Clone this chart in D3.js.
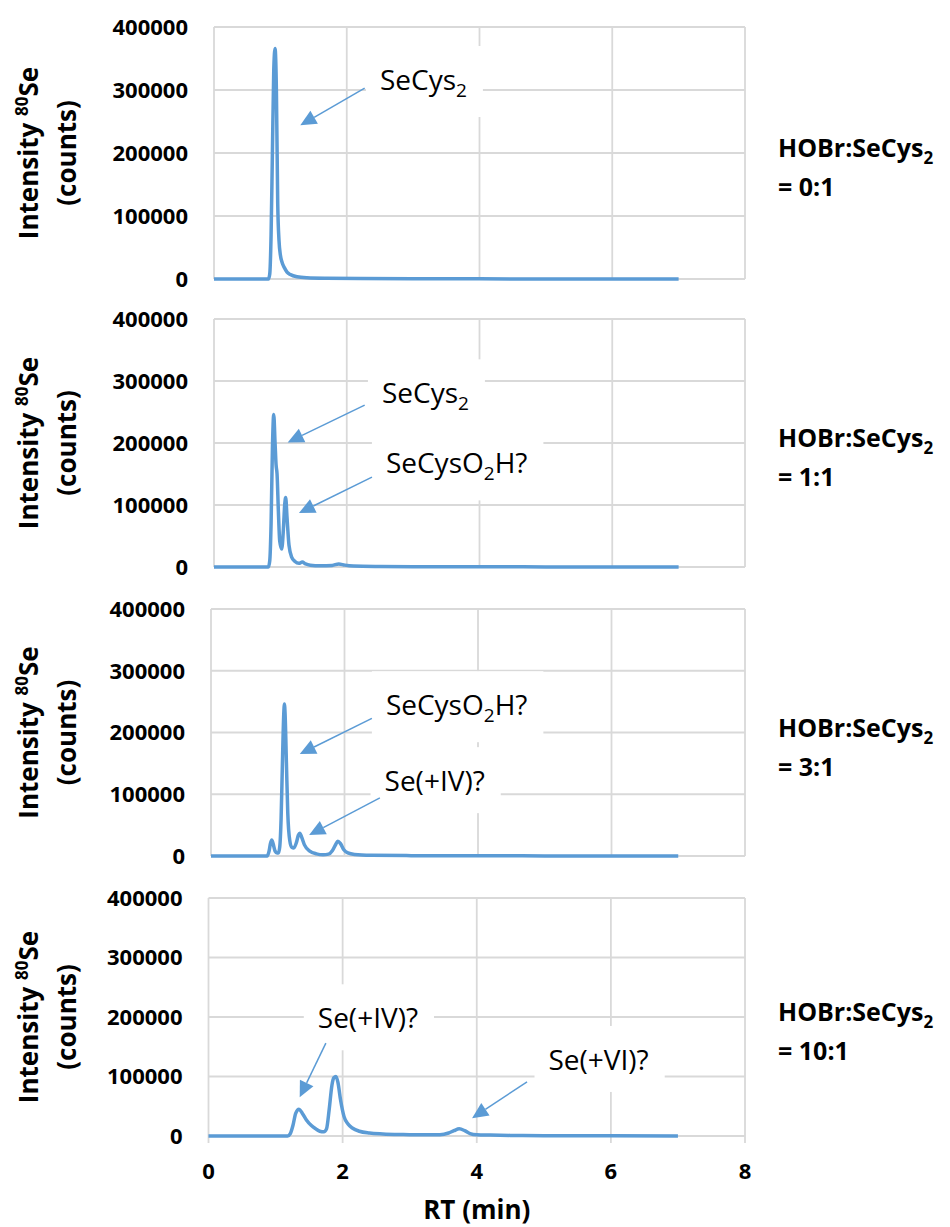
<!DOCTYPE html>
<html>
<head>
<meta charset="utf-8">
<script src="https://cdn.jsdelivr.net/npm/d3@7"></script>
<style>
  body { margin: 0; background: #fff; }
  svg { display: block; font-family: "Open Sans", "Noto Sans", sans-serif; }
  .grid line { stroke: #d9d9d9; stroke-width: 1.8; }
  .tick-lbl { font-weight: bold; font-size: 22px; fill: #000; }
  .axis-title { font-weight: bold; font-size: 26px; fill: #000; }
  .ratio { font-weight: bold; font-size: 25px; fill: #000; }
  .note { font-size: 28px; fill: #000; }
  .trace { fill: none; stroke: #5b9bd5; stroke-width: 3.5; stroke-linejoin: round; }
</style>
</head>
<body>
<script>
// chromatograms, 80Se intensity vs retention time, 4 HOBr:SeCys2 ratios

var width = 950,
    height = 1227;

// axis ticks
var rtTicks = [0, 2, 4, 6, 8];
var countTicks = [0, 100000, 200000, 300000, 400000];
var ratioLabels = ["0:1", "1:1", "3:1", "10:1"];

// traces (RT in min, counts)
var rt_0 = [0, 0.82, 0.84, 0.86, 0.88, 0.90, 0.92, 0.94, 0.96, 0.98, 1.00, 1.03, 1.06, 1.10, 1.15, 1.25, 1.4, 1.7, 2.2, 3, 4, 5, 6, 7];
var counts_0 = [0, 0, 8000, 70000, 200000, 330000, 366000, 300000, 120000, 60000, 38000, 25000, 18000, 11000, 7000, 3500, 2000, 1200, 800, 400, 200, 100, 50, 0];

var rt_1 = [0, 0.82, 0.84, 0.86, 0.88, 0.90, 0.92, 0.935, 0.95, 0.97, 0.99, 1.02, 1.045, 1.065, 1.08, 1.10, 1.13, 1.17, 1.22, 1.28, 1.33, 1.38, 1.45, 1.6, 1.78, 1.88, 1.97, 2.1, 2.5, 3, 4, 5, 6, 7];
var counts_1 = [0, 0, 10000, 70000, 190000, 246000, 200000, 165000, 150000, 90000, 42000, 29000, 60000, 100000, 112000, 80000, 35000, 16000, 9000, 6000, 8000, 5000, 3000, 2000, 2500, 5000, 3000, 1500, 800, 500, 300, 200, 100, 0];

var rt_3 = [0, 0.84, 0.87, 0.89, 0.91, 0.93, 0.96, 0.99, 1.01, 1.03, 1.05, 1.07, 1.09, 1.10, 1.11, 1.13, 1.15, 1.18, 1.21, 1.24, 1.28, 1.31, 1.33, 1.36, 1.40, 1.48, 1.58, 1.68, 1.76, 1.82, 1.87, 1.90, 1.94, 1.99, 2.05, 2.15, 2.4, 3, 4, 5, 6, 7];
var counts_3 = [0, 0, 8000, 20000, 26000, 20000, 8000, 5000, 5000, 15000, 60000, 150000, 230000, 246000, 230000, 150000, 70000, 25000, 14000, 13000, 22000, 34000, 37000, 30000, 18000, 8000, 3500, 2000, 3000, 9000, 19000, 24000, 20000, 10000, 5000, 2500, 1200, 600, 300, 200, 100, 0];

var rt_10 = [0, 1.18, 1.22, 1.26, 1.30, 1.35, 1.40, 1.46, 1.53, 1.60, 1.66, 1.72, 1.76, 1.80, 1.84, 1.87, 1.90, 1.93, 1.97, 2.02, 2.08, 2.15, 2.25, 2.4, 2.6, 2.9, 3.2, 3.45, 3.58, 3.66, 3.74, 3.82, 3.9, 4.0, 4.2, 4.5, 5, 6, 7];
var counts_10 = [0, 0, 4000, 18000, 38000, 45000, 38000, 27000, 18000, 12000, 8000, 7000, 12000, 45000, 85000, 98000, 100000, 90000, 60000, 33000, 20000, 13000, 8000, 5000, 3500, 2500, 2000, 2200, 5000, 9000, 12000, 9000, 4000, 2000, 1500, 1000, 600, 300, 0];

var traces = [[rt_0, counts_0], [rt_1, counts_1], [rt_3, counts_3], [rt_10, counts_10]];

// peak labels: [panel, text, subscript part, rest, text rt, text counts, tail rt, tail counts, tip rt, tip counts]
var notes = [
    [0, "SeCys", "2", "", 2.50, 300000, 2.27, 303000, 1.30, 244000],
    [1, "SeCys", "2", "", 2.53, 264000, 2.27, 261000, 1.11, 201000],
    [1, "SeCysO", "2", "H?", 2.59, 151000, 2.38, 145000, 1.28, 87000],
    [2, "SeCysO", "2", "H?", 2.62, 228000, 2.41, 223000, 1.33, 165000],
    [2, "Se(+IV)?", "", "", 2.60, 105000, 2.53, 94000, 1.47, 34000],
    [3, "Se(+IV)?", "", "", 1.63, 181000, 1.75, 156000, 1.36, 65000],
    [3, "Se(+VI)?", "", "", 5.07, 111000, 4.75, 91000, 3.93, 30000]
];

// panel placement on the page
var layout = [
    {left: 214, top: 27, bottom: 279},
    {left: 214, top: 319, bottom: 567},
    {left: 211, top: 609, bottom: 856},
    {left: 208.5, top: 898, bottom: 1136}
];
var plotRight = 745;

var svg = d3.select("body")
    .append("svg")
    .attr("width", width)
    .attr("height", height);

layout.forEach(function(p, i){
    var x = d3.scaleLinear().domain([0, 8]).range([p.left, plotRight]);
    var y = d3.scaleLinear().domain([0, 400000]).range([p.bottom, p.top]);
    var g = svg.append("g");

    //gridlines
    var grid = g.append("g").attr("class", "grid");
    grid.selectAll(".h").data(countTicks).enter().append("line")
        .attr("x1", p.left).attr("x2", plotRight)
        .attr("y1", y).attr("y2", y);
    grid.selectAll(".v").data(rtTicks).enter().append("line")
        .attr("x1", x).attr("x2", x)
        .attr("y1", p.top).attr("y2", i == 3 ? p.bottom + 7 : p.bottom);

    //y tick labels
    g.selectAll(".ylbl").data(countTicks).enter().append("text")
        .attr("class", "tick-lbl")
        .attr("x", p.left - 26)
        .attr("y", y)
        .attr("dy", "0.36em")
        .attr("text-anchor", "end")
        .text(function(d){ return d; });

    //y axis title, rotated
    var mid = (p.top + p.bottom) / 2;
    var t1 = g.append("text")
        .attr("class", "axis-title")
        .attr("transform", "translate(38," + mid + ") rotate(-90)")
        .attr("text-anchor", "middle");
    t1.append("tspan").text("Intensity ");
    t1.append("tspan").attr("dy", -10).attr("font-size", 17).text("80");
    t1.append("tspan").attr("dy", 10).text("Se");
    g.append("text")
        .attr("class", "axis-title")
        .attr("transform", "translate(76," + mid + ") rotate(-90)")
        .attr("text-anchor", "middle")
        .text("(counts)");

    //trace
    var tr = traces[i];
    var pts = d3.zip(tr[0], tr[1]);
    var line = d3.line()
        .x(function(d){ return x(d[0]); })
        .y(function(d){ return y(d[1]); })
        .curve(d3.curveMonotoneX);
    g.append("path")
        .datum(pts)
        .attr("class", "trace")
        .attr("d", line);

    //ratio label at right
    var r1 = g.append("text").attr("class", "ratio")
        .attr("x", 778).attr("y", y(200000) + 4);
    r1.append("tspan").text("HOBr:SeCys");
    r1.append("tspan").attr("dy", 7).attr("font-size", 17).text("2");
    g.append("text").attr("class", "ratio")
        .attr("x", 778).attr("y", y(200000) + 43)
        .text("= " + ratioLabels[i]);

    //peak labels with arrows
    notes.filter(function(n){ return n[0] == i; }).forEach(function(n){
        var box = g.append("rect").attr("fill", "#fff");
        var t = g.append("text").attr("class", "note")
            .attr("x", x(n[4])).attr("y", y(n[5]));
        t.append("tspan").text(n[1]);
        if (n[2]) {
            t.append("tspan").attr("dy", 7).attr("font-size", 19).text(n[2]);
            t.append("tspan").attr("dy", -7).text(n[3]);
        }
        var bb = t.node().getBBox();
        box.attr("x", bb.x - 14).attr("y", bb.y - 14)
            .attr("width", bb.width + 30).attr("height", bb.height + 28);

        var x0 = x(n[6]), y0 = y(n[7]), x1 = x(n[8]), y1 = y(n[9]);
        var ang = Math.atan2(y1 - y0, x1 - x0);
        var len = 16, hw = 7.5;
        var bx = x1 - len * Math.cos(ang), by = y1 - len * Math.sin(ang);
        g.append("line")
            .attr("x1", x0).attr("y1", y0).attr("x2", bx).attr("y2", by)
            .attr("stroke", "#5b9bd5").attr("stroke-width", 1.5);
        g.append("polygon")
            .attr("fill", "#5b9bd5")
            .attr("points", [
                [x1, y1],
                [bx + hw * Math.sin(ang), by - hw * Math.cos(ang)],
                [bx - hw * Math.sin(ang), by + hw * Math.cos(ang)]
            ].join(" "));
    });

    //x tick labels only on the last panel
    if (i == 3) {
        g.selectAll(".xlbl").data(rtTicks).enter().append("text")
            .attr("class", "tick-lbl")
            .attr("x", x)
            .attr("y", 1179)
            .attr("text-anchor", "middle")
            .text(function(d){ return d; });
        g.append("text")
            .attr("class", "axis-title")
            .attr("font-size", 27)
            .attr("x", (p.left + plotRight) / 2)
            .attr("y", 1219)
            .attr("text-anchor", "middle")
            .text("RT (min)");
    }
});
</script>
</body>
</html>
